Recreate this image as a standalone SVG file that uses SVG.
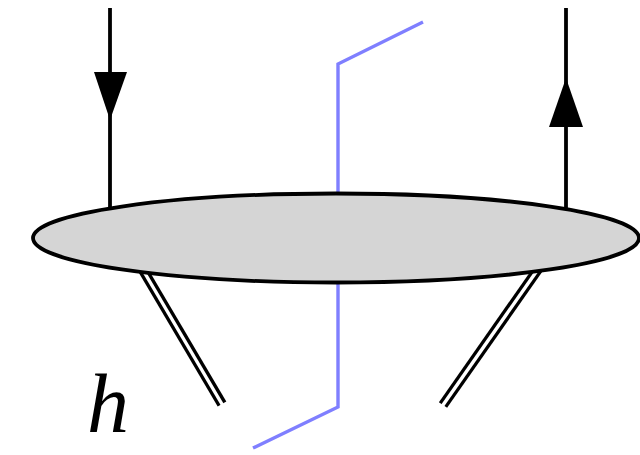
<svg xmlns="http://www.w3.org/2000/svg" width="640" height="455" viewBox="0 0 640 455">
<style>
.ln{stroke:#000;stroke-width:3.8;fill:none}
.blue{stroke:#7f7fff;stroke-width:3.4;fill:none;stroke-linejoin:miter}
.dbo{stroke:#000;stroke-width:10;fill:none}
.dbi{stroke:#fff;stroke-width:3.4;fill:none}
.lbl{font-family:"Liberation Serif","DejaVu Serif",serif;font-style:italic}
</style>
<rect width="640" height="455" fill="#fff"/>
<g id="connectors">
<line class="ln" x1="110" y1="8" x2="110" y2="220"/>
<polygon points="94,72 127,72 110,120" fill="#000"/>
<line class="ln" x1="566" y1="8" x2="566" y2="220"/>
<polygon points="549,127 583,127 566,78" fill="#000"/>
<polyline class="blue" points="423,22 338,64 338,407 253,448"/>
<line class="dbo" x1="140" y1="265" x2="222" y2="404"/>
<line class="dbi" x1="140" y1="265" x2="222.5" y2="405"/>
<line class="dbo" x1="541" y1="265" x2="443" y2="405"/>
<line class="dbi" x1="541" y1="265" x2="442.5" y2="405.7"/>
</g>
<g id="blob">
<ellipse cx="336" cy="238" rx="303" ry="44.5" fill="#d5d5d5" stroke="#000" stroke-width="3.8"/>
</g>
<g id="label-h">
<text class="lbl" x="87" y="432" font-size="84">h</text>
</g>
</svg>
